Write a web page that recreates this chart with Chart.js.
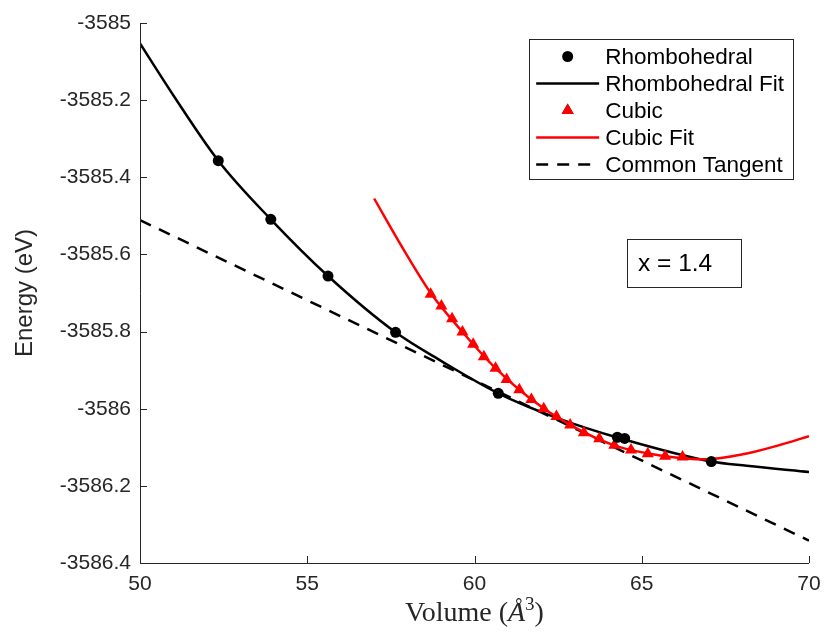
<!DOCTYPE html>
<html>
<head>
<meta charset="utf-8">
<script src="https://cdn.jsdelivr.net/npm/chart.js@4.4.1/dist/chart.umd.min.js"></script>
<style>
  html, body { margin: 0; padding: 0; background: #fff; }
</style>
</head>
<body>
<canvas id="eosChart" width="825" height="635"></canvas>
<script>
// values (volume in A^3, energy in eV)
const rhomboVolume = [52.34, 53.91, 55.62, 57.64, 60.71, 64.27, 64.49, 67.08];
const rhomboEnergy = [-3585.357, -3585.509, -3585.656, -3585.802, -3585.960, -3586.074, -3586.077, -3586.137];

const rhomboFitVolume = [50.0, 51.0, 52.34, 53.91, 55.62, 57.64, 59.0, 60.71, 62.5, 64.4, 67.08, 68.14, 70.0];
const rhomboFitEnergy = [-3585.053, -3585.188, -3585.357, -3585.509, -3585.656, -3585.802, -3585.876, -3585.960, -3586.025, -3586.078, -3586.137, -3586.148, -3586.164];

const cubicVolume = [58.69, 59.01, 59.33, 59.64, 59.96, 60.28, 60.63, 60.96, 61.34, 61.70,
                     62.07, 62.45, 62.86, 63.27, 63.73, 64.18, 64.68, 65.18, 65.70, 66.22];
const cubicEnergy = [-3585.703, -3585.734, -3585.767, -3585.801, -3585.833, -3585.865, -3585.895, -3585.924, -3585.951, -3585.976,
                     -3586.000, -3586.020, -3586.042, -3586.062, -3586.078, -3586.095, -3586.107, -3586.117, -3586.123, -3586.125];

const cubicFitVolume = [57.0, 57.85, 58.69, 59.64, 60.63, 61.70, 62.86, 64.18, 65.70, 66.9, 68.14, 69.13, 70.0];
const cubicFitEnergy = [-3585.455, -3585.583, -3585.700, -3585.801, -3585.895, -3585.976, -3586.042, -3586.095, -3586.123, -3586.131, -3586.116, -3586.094, -3586.071];

const tangentVolume = [50, 70];
const tangentEnergy = [-3585.511, -3586.342];

const xTicks = { min: 50, max: 70, step: 5 };
const yTicks = { min: -3586.4, max: -3585, step: 0.2 };

const axisColor = "#262626";
const sans = "'Liberation Sans', Arial, sans-serif";
const serif = "'Liberation Serif', serif";

function toPoints(xs, ys) {
  return xs.map((v, i) => ({ x: v, y: ys[i] }));
}

// matlab style axes: left + bottom only, ticks pointing inwards
const matlabAxes = {
  id: "matlabAxes",
  afterDatasetsDraw(chart) {
    const { ctx, chartArea: a, scales } = chart;
    const xs = scales.x;
    const ys = scales.y;
    ctx.save();
    ctx.strokeStyle = axisColor;
    ctx.lineWidth = 1;
    ctx.beginPath();
    ctx.moveTo(a.left + 0.5, a.top);
    ctx.lineTo(a.left + 0.5, a.bottom + 0.5);
    ctx.lineTo(a.right, a.bottom + 0.5);
    xs.ticks.forEach((t) => {
      const px = Math.round(xs.getPixelForValue(t.value)) + 0.5;
      ctx.moveTo(px, a.bottom);
      ctx.lineTo(px, a.bottom - 7);
    });
    ys.ticks.forEach((t) => {
      const py = Math.round(ys.getPixelForValue(t.value)) + 0.5;
      ctx.moveTo(a.left, py);
      ctx.lineTo(a.left + 7, py);
    });
    ctx.stroke();
    ctx.restore();
  },
};

// x label with italic A-ring and superscript, like the latex label
const volumeLabel = {
  id: "volumeLabel",
  afterDraw(chart) {
    const { ctx, chartArea: a } = chart;
    const parts = [
      { t: "Volume (", f: "28px " + serif, dy: 0 },
      { t: "Å", f: "italic 28px " + serif, dy: 0 },
      { t: "3", f: "19px " + serif, dy: -11 },
      { t: ")", f: "28px " + serif, dy: 0 },
    ];
    ctx.save();
    let total = 0;
    parts.forEach((p) => {
      ctx.font = p.f;
      p.w = ctx.measureText(p.t).width;
      total += p.w;
    });
    let x = (a.left + a.right) / 2 - total / 2;
    const base = 621;
    ctx.fillStyle = axisColor;
    ctx.textBaseline = "alphabetic";
    parts.forEach((p) => {
      ctx.font = p.f;
      ctx.fillText(p.t, x, base + p.dy);
      x += p.w;
    });
    ctx.restore();
  },
};

// boxed legend in the upper right corner
const boxLegend = {
  id: "boxLegend",
  afterDraw(chart) {
    const { ctx, chartArea: a } = chart;
    const sets = chart.data.datasets;
    ctx.save();
    ctx.font = "22.5px " + sans;
    const textW = Math.max(...sets.map((d) => ctx.measureText(d.label).width));
    const sample = 63;
    const w = 7 + sample + 6 + textW + 9;
    const rowH = 27;
    const h = rowH * sets.length + 5;
    const right = a.right - 16;
    const left = right - w;
    const top = a.top + 16;

    ctx.fillStyle = "#fff";
    ctx.fillRect(left, top, w, h);
    ctx.strokeStyle = axisColor;
    ctx.lineWidth = 1;
    ctx.strokeRect(Math.round(left) + 0.5, Math.round(top) + 0.5, Math.round(w), Math.round(h));

    sets.forEach((d, i) => {
      const cy = top + 17.5 + i * rowH;
      const x0 = left + 7;
      if (d.showLine) {
        ctx.beginPath();
        ctx.setLineDash(d.borderDash || []);
        ctx.strokeStyle = d.borderColor;
        ctx.lineWidth = d.borderWidth;
        ctx.moveTo(x0, cy);
        ctx.lineTo(x0 + sample, cy);
        ctx.stroke();
        ctx.setLineDash([]);
      } else {
        Chart.helpers.drawPoint(ctx, {
          pointStyle: d.pointStyle,
          radius: d.pointRadius,
          borderWidth: 0,
          rotation: 0,
        }, x0 + sample / 2, cy);
        ctx.fillStyle = d.backgroundColor;
        ctx.fill();
      }
      ctx.fillStyle = "#000";
      ctx.textBaseline = "middle";
      ctx.fillText(d.label, x0 + sample + 6, cy + 1);
    });
    ctx.restore();
  },
};

// "x = 1.4" text box
const compositionBox = {
  id: "compositionBox",
  afterDraw(chart) {
    const { ctx, scales } = chart;
    const left = Math.round(scales.x.getPixelForValue(64.56));
    const top = Math.round(scales.y.getPixelForValue(-3585.56));
    ctx.save();
    ctx.fillStyle = "#fff";
    ctx.fillRect(left, top, 114, 48);
    ctx.strokeStyle = axisColor;
    ctx.lineWidth = 1;
    ctx.strokeRect(left + 0.5, top + 0.5, 114, 48);
    ctx.font = "24.5px " + sans;
    ctx.fillStyle = "#000";
    ctx.textBaseline = "alphabetic";
    ctx.fillText("x = 1.4", left + 11, top + 32);
    ctx.restore();
  },
};

const ctx = document.getElementById("eosChart").getContext("2d");

new Chart(ctx, {
  type: "scatter",
  data: {
    datasets: [
      {
        label: "Rhombohedral",
        data: toPoints(rhomboVolume, rhomboEnergy),
        showLine: false,
        pointStyle: "circle",
        pointRadius: 5.5,
        backgroundColor: "#000",
        borderColor: "#000",
        borderWidth: 0,
        order: 1,
      },
      {
        label: "Rhombohedral Fit",
        data: toPoints(rhomboFitVolume, rhomboFitEnergy),
        showLine: true,
        pointRadius: 0,
        borderColor: "#000",
        borderWidth: 2.5,
        cubicInterpolationMode: "monotone",
        order: 4,
      },
      {
        label: "Cubic",
        data: toPoints(cubicVolume, cubicEnergy),
        showLine: false,
        pointStyle: "triangle",
        pointRadius: 7,
        backgroundColor: "#ff0000",
        borderColor: "#ff0000",
        borderWidth: 0,
        order: 2,
      },
      {
        label: "Cubic Fit",
        data: toPoints(cubicFitVolume, cubicFitEnergy),
        showLine: true,
        pointRadius: 0,
        borderColor: "#ff0000",
        borderWidth: 2.5,
        cubicInterpolationMode: "monotone",
        order: 3,
      },
      {
        label: "Common Tangent",
        data: toPoints(tangentVolume, tangentEnergy),
        showLine: true,
        pointRadius: 0,
        borderColor: "#000",
        borderWidth: 2.5,
        borderDash: [12, 9],
        order: 5,
      },
    ],
  },
  options: {
    responsive: false,
    animation: false,
    devicePixelRatio: 1,
    layout: {
      padding: { left: 0, top: 23, right: 16, bottom: 0 },
    },
    plugins: {
      legend: { display: false },
      tooltip: { enabled: false },
    },
    scales: {
      x: {
        type: "linear",
        min: xTicks.min,
        max: xTicks.max,
        grid: { display: false, drawTicks: false },
        border: { display: false },
        ticks: {
          stepSize: xTicks.step,
          padding: 9,
          color: axisColor,
          font: { family: sans, size: 21 },
          maxRotation: 0,
        },
        afterFit(scale) {
          scale.height = 72;
          scale.paddingLeft = 0;
          scale.paddingRight = 0;
        },
      },
      y: {
        type: "linear",
        min: yTicks.min,
        max: yTicks.max,
        grid: { display: false, drawTicks: false },
        border: { display: false },
        ticks: {
          stepSize: yTicks.step,
          padding: 9,
          color: axisColor,
          font: { family: sans, size: 21 },
          callback: (v) => String(parseFloat(v.toFixed(1))),
        },
        title: {
          display: true,
          text: "Energy (eV)",
          color: axisColor,
          font: { family: sans, size: 24 },
          padding: { top: 11, bottom: 0 },
        },
        afterFit(scale) {
          scale.width = 140;
          scale.paddingTop = 0;
          scale.paddingBottom = 0;
        },
      },
    },
  },
  plugins: [matlabAxes, volumeLabel, boxLegend, compositionBox],
});
</script>
</body>
</html>
